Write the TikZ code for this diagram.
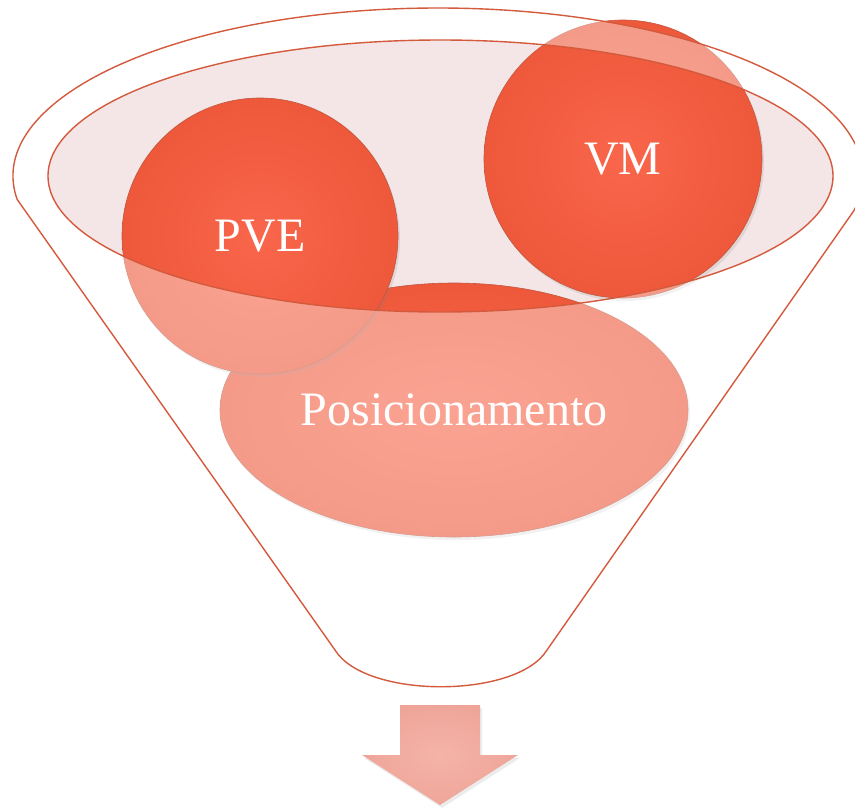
\documentclass[tikz,border=0pt]{standalone}
\usepackage{fontspec}
\setmainfont{Liberation Serif}
\usetikzlibrary{shapes.geometric,shadows}
\definecolor{funnelred}{HTML}{D35A3C}
\definecolor{ballin}{HTML}{F9664B}
\definecolor{ballmid}{HTML}{EC5537}
\definecolor{ballout}{HTML}{DC4727}
\definecolor{rimpink}{HTML}{F4E6E6}
\definecolor{arrowin}{HTML}{F5B3A8}
\definecolor{arrowout}{HTML}{E8988A}
\pgfdeclareradialshading{ballshade}{\pgfpoint{0bp}{0bp}}{color(0bp)=(ballin); color(30bp)=(ballmid); color(50bp)=(ballout); color(100bp)=(ballout)}
\pgfdeclareradialshading{arrowshade}{\pgfpoint{0bp}{0bp}}{color(0bp)=(arrowin); color(50bp)=(arrowout); color(100bp)=(arrowout)}

\begin{document}
\begin{tikzpicture}[x=1pt, y=-1pt,
  every node/.style = {text=white, inner sep=0pt,
    font=\fontsize{48}{48}\selectfont},
  ball/.style = {circle, shading=ballshade, draw=ballout!70!gray,
    line width=0.6pt,
    drop shadow={opacity=0.18, shadow xshift=2pt, shadow yshift=-3pt}},
  funnel/.style = {draw=funnelred, line width=1.4pt}]
  \useasboundingbox (0,0) rectangle (855,809);
  \clip (0,0) rectangle (855,809);
  \fill[rimpink] (440.5,176) ellipse [x radius=392.5, y radius=136];
  \node[ball, ellipse, minimum width=468pt, minimum height=254pt] (pos) at (454,410) {Posicionamento};
  \node[ball, minimum size=276pt] (pve) at (260,236) {PVE};
  \node[ball, minimum size=278pt] (vm) at (623,159) {VM};
  \path[funnel, fill=white, fill opacity=0.4, even odd rule]
    ([shift={(438,176)}]172:425 and 168)
      arc[start angle=172, end angle=372, x radius=425, y radius=168]
    -- (547,650) .. controls (517,699) and (365,699) .. (335,650) -- cycle
    (440.5,176) ellipse [x radius=392.5, y radius=136];
  \path[shading=arrowshade,
    drop shadow={opacity=0.15, shadow xshift=2pt, shadow yshift=-3pt}]
    (400,705) -- (480,705) -- (480,755) -- (518,755) -- (440,805)
    -- (362,755) -- (400,755) -- cycle;
\end{tikzpicture}
\end{document}
